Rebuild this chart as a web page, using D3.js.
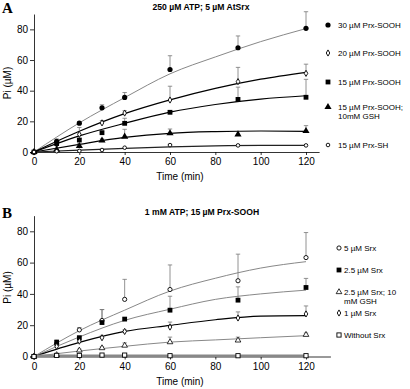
<!DOCTYPE html>
<html>
<head>
<meta charset="utf-8">
<title>Srx activity</title>
<script src="https://d3js.org/d3.v7.min.js"></script>
<style>
  body { margin: 0; background: #fff; }
  text { font-family: Arial, "Liberation Sans", sans-serif; fill: #000; }
</style>
</head>
<body>
<svg width="410" height="389"></svg>
<script>
// measured time points (min)
const times = [0, 10, 20, 30, 40, 60, 90, 120];
// time points used to trace the fitted curves
const fitTimes = [0, 20, 40, 60, 80, 100, 120];
const xTicks = [0, 20, 40, 60, 80, 100, 120];
const yTicks = [0, 20, 40, 60, 80];

// panel A: 250 uM ATP; 5 uM AtSrx
const labelsA = ["30 \u00b5M Prx-SOOH", "20 \u00b5M Prx-SOOH", "15 \u00b5M Prx-SOOH", "15 \u00b5M Prx-SOOH;|10mM GSH", "15 \u00b5M Prx-SH"];
const a30 = [0, 7, 18.8, 28.8, 35.6, 53.8, 68, 80.7];
const a30Err = [0, 1.5, 1, 2, 3.2, 9, 7.7, 10.8];
const a20 = [0, 5, 11.5, 19, 25.4, 33.9, 45.9, 51.3];
const a20Err = [0, 1.5, 4.5, 1.5, 1.5, 9, 9.3, 6];
const a15 = [0, 5.5, 7.8, 12.6, 18.7, 25.9, 34.3, 35.7];
const a15Err = [0, 1, 1, 1, 3.3, 1, 8, 11.7];
const aGsh = [0, 1.5, 3.9, 7.5, 10, 12.2, 11.5, 13.7];
const aGshErr = [0, 0.5, 1.5, 1, 4.8, 2.8, 0, 3.5];
const aSh = [0, 0.5, 0.7, 1.3, 2.8, 4.5, 4.3, 4.3];
const aShErr = [0, 0, 0, 0, 0, 0.5, 0, 0];
const a30Fit = [0, 19, 35.5, 51, 62, 72, 80.5];
const a20Fit = [0, 13.5, 25, 34, 41.5, 47.5, 52];
const a15Fit = [0, 10.5, 18.7, 26, 31, 34.5, 36.7];
const aGshFit = [0, 5, 9.5, 12.2, 13.3, 13.7, 13.5];
const aShFit = [0, 1.2, 2.3, 3.3, 4, 4.3, 4.3];

// panel B: 1 mM ATP; 15 uM Prx-SOOH
const labelsB = ["5 \u00b5M Srx", "2.5 \u00b5M Srx", "2.5 \u00b5M Srx; 10|mM GSH", "1 \u00b5M Srx", "Without Srx"];
const b5 = [0, 8, 17, 23, 36.5, 42.8, 48.4, 63.2];
const b5Err = [0, 1, 1.5, 7, 12.8, 15.7, 17, 16];
const b25 = [0, 9.1, 12, 21.7, 23.9, 29.6, 36, 44.1];
const b25Err = [0, 1.5, 1, 8.3, 0, 8.9, 8.5, 5.8];
const bGsh = [0, 1, 3.9, 5.4, 7, 9.2, 10.3, 13.9];
const bGshErr = [0, 0, 0.8, 0.8, 1.7, 3.2, 2.1, 1.1];
const b1 = [0, 6.5, 9.8, 12, 16, 18.8, 24.6, 27.2];
const b1Err = [0, 0.5, 0.5, 1.5, 1, 3.2, 3.9, 5.1];
const bNone = [0, 0.7, 0.7, 0.9, 0.9, 0.5, 0.5, 0.5];
const bNoneErr = [0, 0, 0, 0, 0, 0, 0, 0];
const b5Fit = [0, 16.5, 29.6, 41.8, 50, 56.5, 60.6];
const b25Fit = [0, 12.5, 23.1, 30.2, 36.5, 40, 42.4];
const bGshFit = [0, 3.5, 6.5, 9.2, 10.6, 12, 13.3];
const b1Fit = [0, 9, 16, 19.9, 23.5, 25.8, 26.1];
const bNoneFit = [0.5, 0.5, 0.5, 0.5, 0.5, 0.5, 0.5];

const svg = d3.select("svg");

function marker(g, shape, x, y) {
  const black = "#000";
  if (shape == "dot") {
    g.append("circle").attr("cx", x).attr("cy", y).attr("r", 2.6).attr("fill", black);
  } else if (shape == "circle") {
    g.append("circle").attr("cx", x).attr("cy", y).attr("r", 2.1)
      .attr("fill", "#fff").attr("stroke", black).attr("stroke-width", 0.9);
  } else if (shape == "smallcircle") {
    g.append("circle").attr("cx", x).attr("cy", y).attr("r", 1.8)
      .attr("fill", "#fff").attr("stroke", black).attr("stroke-width", 0.9);
  } else if (shape == "diamond") {
    g.append("path").attr("d", d3.symbol(d3.symbolDiamond, 11)())
      .attr("transform", `translate(${x},${y})`)
      .attr("fill", "#fff").attr("stroke", black).attr("stroke-width", 0.9);
  } else if (shape == "square") {
    g.append("rect").attr("x", x - 2.4).attr("y", y - 2.4).attr("width", 4.8).attr("height", 4.8).attr("fill", black);
  } else if (shape == "opensquare") {
    g.append("rect").attr("x", x - 2.1).attr("y", y - 2.1).attr("width", 4.2).attr("height", 4.2)
      .attr("fill", "#fff").attr("stroke", black).attr("stroke-width", 0.9);
  } else if (shape == "triangle") {
    g.append("path").attr("d", d3.symbol(d3.symbolTriangle, 22)())
      .attr("transform", `translate(${x},${y})`).attr("fill", black);
  } else if (shape == "opentriangle") {
    g.append("path").attr("d", d3.symbol(d3.symbolTriangle, 14)())
      .attr("transform", `translate(${x},${y})`)
      .attr("fill", "#fff").attr("stroke", black).attr("stroke-width", 0.8);
  }
}

function drawPanel(p) {
  const x = d3.scaleLinear().domain([0, 120]).range([34, 306]);
  const y = d3.scaleLinear().domain([0, 90]).range([p.y0, p.y0 - 90 * p.k]);
  const g = svg.append("g");

  // axes
  const xAxis = g.append("g").attr("transform", `translate(0,${p.y0})`)
    .call(d3.axisBottom(x).tickValues(xTicks).tickSize(3).tickSizeOuter(0).tickPadding(3));
  xAxis.select(".domain").attr("d", `M30,0.5H${x(p.xMax)}`);
  const yAxis = g.append("g").attr("transform", "translate(34,0)")
    .call(d3.axisLeft(y).tickValues(yTicks).tickSize(4).tickSizeOuter(0).tickPadding(2));
  g.selectAll(".tick text").attr("font-size", 10).attr("font-family", "Arial, 'Liberation Sans', sans-serif");
  g.selectAll(".domain, .tick line").attr("stroke", "#000").attr("stroke-width", 0.8);

  g.append("text").attr("x", 180).attr("y", p.y0 + 28).attr("text-anchor", "middle")
    .attr("font-size", 10).text("Time (min)");
  g.append("text").attr("transform", `translate(11,${p.y0 - 69}) rotate(-90)`)
    .attr("text-anchor", "middle").attr("font-size", 10).text("Pi (\u00b5M)");
  g.append("text").attr("x", 2).attr("y", p.y0 - 139).attr("font-size", 15).attr("font-weight", "bold")
    .style("font-family", "'Liberation Serif', 'Times New Roman', serif").text(p.letter);
  g.append("text").attr("x", p.titleX).attr("y", p.y0 - 142).attr("text-anchor", "middle")
    .attr("font-size", 8.6).attr("font-weight", "bold").text(p.title);

  // fitted curves
  const line = d3.line().x((d, i) => x(fitTimes[i])).y(d => y(d)).curve(d3.curveMonotoneX);
  p.series.forEach(s => {
    g.append("path").attr("d", line(s.fit)).attr("fill", "none")
      .attr("stroke", s.lineColor).attr("stroke-width", s.lineWidth);
  });

  // error bars then markers
  p.series.forEach(s => {
    s.values.forEach((v, i) => {
      if (s.err[i] > 0) {
        const top = y(v + s.err[i]);
        g.append("line").attr("x1", x(times[i])).attr("x2", x(times[i]))
          .attr("y1", y(v)).attr("y2", top).attr("stroke", "#777").attr("stroke-width", 0.8);
        g.append("line").attr("x1", x(times[i]) - 2.2).attr("x2", x(times[i]) + 2.2)
          .attr("y1", top).attr("y2", top).attr("stroke", "#777").attr("stroke-width", 0.8);
      }
    });
  });
  p.series.forEach(s => {
    s.values.forEach((v, i) => marker(g, s.shape, x(times[i]), y(v)));
  });

  // legend
  p.series.forEach((s, i) => {
    const ly = p.legendY[i];
    marker(g, s.shape, p.legendX, ly);
    const parts = p.labels[i].split("|");
    parts.forEach((t, j) => {
      g.append("text").attr("x", p.legendX + p.legendGap).attr("y", ly + 3 + j * 9)
        .attr("font-size", 8).text(t);
    });
  });
}

drawPanel({
  letter: "A", title: "250 \u00b5M ATP; 5 \u00b5M AtSrx", titleX: 201,
  y0: 152, k: 1.533, xMax: 126,
  legendX: 328, legendGap: 10, legendY: [25, 53, 82, 107, 145], labels: labelsA,
  series: [
    { values: a30, err: a30Err, fit: a30Fit, shape: "dot", lineColor: "#888", lineWidth: 1 },
    { values: a20, err: a20Err, fit: a20Fit, shape: "diamond", lineColor: "#000", lineWidth: 1.2 },
    { values: a15, err: a15Err, fit: a15Fit, shape: "square", lineColor: "#000", lineWidth: 1.2 },
    { values: aGsh, err: aGshErr, fit: aGshFit, shape: "triangle", lineColor: "#000", lineWidth: 1.2 },
    { values: aSh, err: aShErr, fit: aShFit, shape: "smallcircle", lineColor: "#222", lineWidth: 1.2 }
  ]
});

drawPanel({
  letter: "B", title: "1 mM ATP; 15 \u00b5M Prx-SOOH", titleX: 202,
  y0: 356.5, k: 1.565, xMax: 131,
  legendX: 339, legendGap: 5, legendY: [248, 270, 292, 313, 335], labels: labelsB,
  series: [
    { values: b5, err: b5Err, fit: b5Fit, shape: "circle", lineColor: "#888", lineWidth: 1 },
    { values: b25, err: b25Err, fit: b25Fit, shape: "square", lineColor: "#888", lineWidth: 1 },
    { values: bGsh, err: bGshErr, fit: bGshFit, shape: "opentriangle", lineColor: "#888", lineWidth: 1 },
    { values: b1, err: b1Err, fit: b1Fit, shape: "diamond", lineColor: "#000", lineWidth: 1.2 },
    { values: bNone, err: bNoneErr, fit: bNoneFit, shape: "opensquare", lineColor: "#888", lineWidth: 2.5 }
  ]
});
</script>
</body>
</html>
